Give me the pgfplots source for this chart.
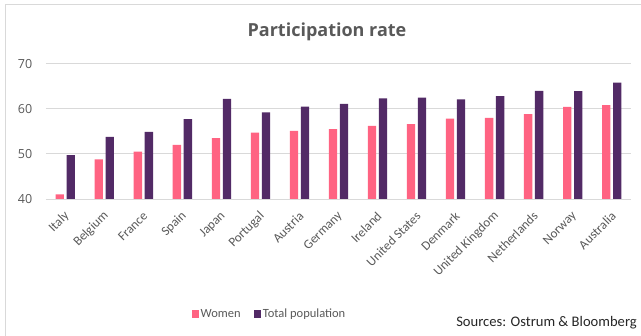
\documentclass[border=0pt]{standalone}
\usepackage{pgfplots}
\pgfplotsset{compat=1.18}
\usepackage{fontspec}
\setmainfont{Carlito}
\newfontfamily\osans{Open Sans}

\definecolor{women}{HTML}{FF6382}
\definecolor{totalpop}{HTML}{522A66}
\definecolor{txtgray}{HTML}{595959}
\definecolor{gridgray}{HTML}{D9D9D9}

\begin{document}
\begin{tikzpicture}[x=1pt,y=1pt]
\path[use as bounding box] (0,0) rectangle (641,336);
% chart frame
\draw[gridgray, line width=0.8pt] (5.5,0) -- (5.5,331.5) -- (641,331.5);
% title
\node[txtgray, font=\osans\bfseries\fontsize{18}{18}\selectfont] at (327,304) {Participation rate};
\begin{axis}[
  at={(45.8pt,137pt)}, anchor=south west,
  scale only axis, width=585.4pt, height=135.3pt,
  xmin=-0.5, xmax=14.5, ymin=40, ymax=70,
  ytick={40,50,60,70},
  xtick=data,
  xticklabels={Italy,Belgium,France,Spain,Japan,Portugal,Austria,Germany,Ireland,United States,Denmark,United Kingdom,Netherlands,Norway,Australia},
  xticklabel style={xshift=2pt, yshift=-15pt, rotate=45, anchor=east, font=\fontsize{13}{13}\selectfont, text=txtgray, inner sep=0pt},
  yticklabel style={font=\osans\fontsize{12.5}{12.5}\selectfont, text=txtgray, xshift=-10pt},
  /pgf/number format/assume math mode=true,
  major tick length=0pt,
  axis line style={draw=none},
  ymajorgrids, grid style={gridgray, line width=0.8pt},
  legend columns=2,
  legend style={at={(0.382,-0.85)}, anchor=center, draw=none, fill=none,
    font=\fontsize{12.5}{12.5}\selectfont, text=txtgray,
    nodes={inner sep=1.5pt},
    /tikz/every even column/.append style={column sep=12pt}},
  legend image code/.code={\fill[#1] (0pt,-3.6pt) rectangle (7.2pt,3.6pt);},
]
\addplot[ybar, bar width=8.3pt, bar shift=-5.5pt, fill=women, draw=none] coordinates {
  (0,41.0) (1,48.8) (2,50.5) (3,52.0) (4,53.5) (5,54.7) (6,55.1) (7,55.5)
  (8,56.2) (9,56.6) (10,57.8) (11,58.0) (12,58.8) (13,60.4) (14,60.8)};
\addlegendentry{Women}
\addplot[ybar, bar width=8.3pt, bar shift=5.5pt, fill=totalpop, draw=none] coordinates {
  (0,49.7) (1,53.8) (2,54.9) (3,57.7) (4,62.2) (5,59.2) (6,60.5) (7,61.1)
  (8,62.3) (9,62.5) (10,62.1) (11,62.8) (12,64.0) (13,63.9) (14,65.8)};
\addlegendentry{Total population}
\end{axis}
\node[anchor=east, text=black!85, font=\fontsize{14.6}{14.6}\selectfont, inner sep=0pt] at (637,13) {Sources: Ostrum \& Bloomberg};
\end{tikzpicture}
\end{document}
